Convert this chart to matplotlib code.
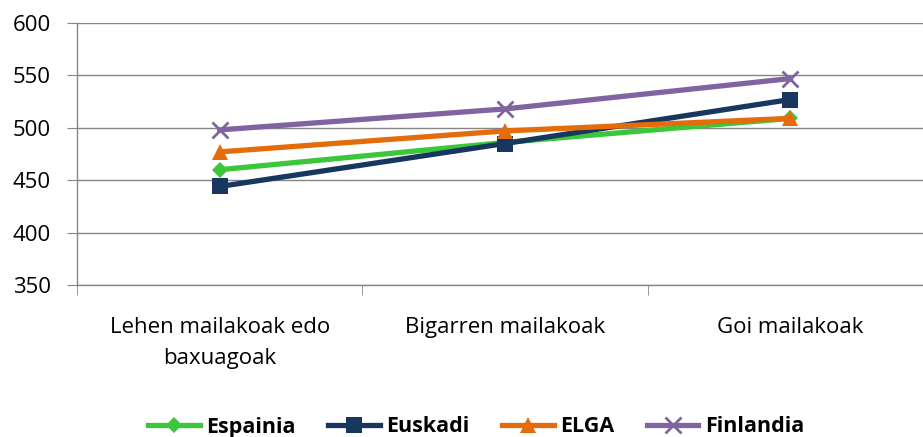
import matplotlib
matplotlib.use("Agg")
import matplotlib.pyplot as plt
import numpy as np

categories = ["Lehen mailakoak edo\nbaxuagoak", "Bigarren mailakoak", "Goi mailakoak"]
espainia = [460, 486, 509]
euskadi = [444, 485, 527]
elga = [477, 497, 509]
finlandia = [498, 518, 547]
yticks = [350, 400, 450, 500, 550, 600]

plt.rcParams['font.family'] = ['Open Sans', 'DejaVu Sans']

fig = plt.figure(figsize=(9.23, 4.37), dpi=100)
ax = fig.add_axes([77/923, 1-285/437, (933-77)/923, (285-23)/437])

x = np.arange(len(categories))
series = [
    ("Espainia", espainia, "#3BC63B", "D", 8),
    ("Euskadi", euskadi, "#17375E", "s", 11),
    ("ELGA", elga, "#E46C0A", "^", 11),
    ("Finlandia", finlandia, "#8064A2", "x", 12),
]
for name, vals, col, mk, ms in series:
    kw = dict(markeredgewidth=2) if mk == "x" else dict(markeredgewidth=0)
    ax.plot(x, vals, color=col, lw=3.8, marker=mk, markersize=ms, label=name,
            markerfacecolor=col, markeredgecolor=col, clip_on=False, zorder=3, **kw)

ax.set_xlim(-0.5, 2.5)
ax.set_ylim(350, 600)
ax.set_yticks(yticks)
ax.yaxis.grid(True, color="#868686", lw=1)
ax.set_axisbelow(True)
for s in ["top", "right"]:
    ax.spines[s].set_visible(False)
for s in ["left", "bottom"]:
    ax.spines[s].set_color("#868686")
    ax.spines[s].set_linewidth(1)
ax.set_xticks(x)
ax.set_xticklabels(categories, fontsize=16, linespacing=1.6)
ax.tick_params(axis="x", which="major", length=0, pad=23)
ax.set_xticks([-0.5, 0.5, 1.5, 2.5], minor=True)
ax.tick_params(axis="x", which="minor", length=7, color="#868686", direction="out")
ax.tick_params(axis="y", length=7, color="#868686", labelsize=16, pad=12)

leg = fig.legend(loc="center", bbox_to_anchor=(0.516, 1-427/437), ncol=4, frameon=False,
                 handlelength=2.4, prop={"weight": "bold", "size": 15.5}, columnspacing=1.5,
                 handletextpad=0.3)
fig.savefig("out.png", dpi=100)
